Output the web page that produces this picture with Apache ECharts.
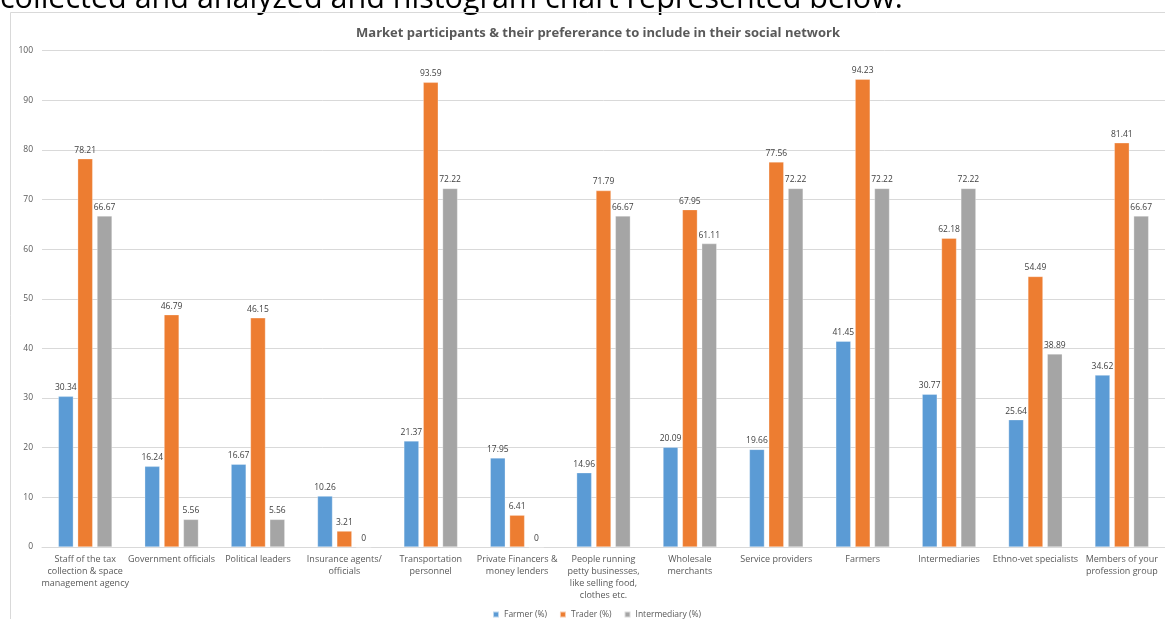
<!DOCTYPE html>
<html>
<head>
<meta charset="utf-8">
<script src="https://cdn.jsdelivr.net/npm/echarts@6/dist/echarts.min.js"></script>
<style>
  html, body { margin: 0; padding: 0; background: #ffffff; }
  #chart { width: 1165px; height: 619px; }
</style>
</head>
<body>
<div id="chart"></div>
<script>
// Groups of market participants along the x axis
const categories = [
  'Staff of the tax\ncollection & space\nmanagement agency',
  'Government officials',
  'Political leaders',
  'Insurance agents/\nofficials',
  'Transportation\npersonnel',
  'Private Financers &\nmoney lenders',
  'People running\npetty businesses,\nlike selling food,\nclothes etc.',
  'Wholesale\nmerchants',
  'Service providers',
  'Farmers',
  'Intermediaries',
  'Ethno-vet specialists',
  'Members of your\nprofession group'
];

// Share (%) of each respondent type that would include the group
const farmerPct = [30.34, 16.24, 16.67, 10.26, 21.37, 17.95, 14.96, 20.09, 19.66, 41.45, 30.77, 25.64, 34.62];
const traderPct = [78.21, 46.79, 46.15, 3.21, 93.59, 6.41, 71.79, 67.95, 77.56, 94.23, 62.18, 54.49, 81.41];
const intermediaryPct = [66.67, 5.56, 5.56, 0, 72.22, 0, 66.67, 61.11, 72.22, 72.22, 72.22, 38.89, 66.67];

const seriesNames = ['Farmer (%)', 'Trader (%)', 'Intermediary (%)'];
const seriesColors = ['#5B9BD5', '#ED7D31', '#A5A5A5'];

const yMin = 0, yMax = 100, yStep = 10;

const labelFont = '"Open Sans", "Noto Sans", sans-serif';

function barSeries(name, data, color) {
  return {
    name: name,
    type: 'bar',
    data: data,
    barWidth: 15,
    barGap: '29%',
    itemStyle: { color: color, borderColor: 'rgba(255,255,255,0.6)', borderWidth: 0.5 },
    label: {
      show: true,
      position: 'top',
      distance: 4,
      color: '#404040',
      fontSize: 8.5,
      fontFamily: labelFont
    }
  };
}

const chart = echarts.init(document.getElementById('chart'), null, { renderer: 'canvas' });

chart.setOption({
  animation: false,
  backgroundColor: '#ffffff',
  title: {
    text: 'Market participants & their prefererance to include in their social network',
    left: 593,
    textAlign: 'center',
    top: 22,
    textStyle: { color: '#595959', fontSize: 13, fontWeight: 'bold', fontFamily: labelFont }
  },
  legend: {
    data: seriesNames,
    top: 605,
    left: 487,
    itemWidth: 6,
    itemHeight: 6,
    itemGap: 12,
    icon: 'rect',
    textStyle: { color: '#595959', fontSize: 8.5, fontFamily: labelFont }
  },
  grid: { left: 42, right: 0, top: 50.5, bottom: 72, containLabel: false },
  xAxis: {
    type: 'category',
    data: categories,
    axisLine: { lineStyle: { color: '#d9d9d9' } },
    axisTick: { show: false },
    axisLabel: {
      interval: 0,
      color: '#595959',
      fontSize: 9,
      lineHeight: 11.7,
      margin: 7,
      fontFamily: labelFont
    }
  },
  yAxis: {
    type: 'value',
    min: yMin,
    max: yMax,
    interval: yStep,
    axisLine: { show: false },
    axisTick: { show: false },
    splitLine: { lineStyle: { color: '#d9d9d9' } },
    axisLabel: { color: '#595959', fontSize: 8.5, margin: 9, fontFamily: labelFont }
  },
  graphic: [
    {
      type: 'text',
      silent: true,
      style: {
        x: 0,
        y: -1,
        text: 'collected and analyzed and histogram chart represented below.',
        fill: '#000000',
        verticalAlign: 'middle',
        font: '30.5px "Open Sans", "Noto Sans", sans-serif'
      }
    },
    {
      type: 'line',
      silent: true,
      shape: { x1: 10.5, y1: 12.5, x2: 1165, y2: 12.5 },
      style: { stroke: '#d9d9d9', lineWidth: 1 }
    },
    {
      type: 'line',
      silent: true,
      shape: { x1: 10.5, y1: 12.5, x2: 10.5, y2: 619 },
      style: { stroke: '#d9d9d9', lineWidth: 1 }
    }
  ],
  series: [
    barSeries(seriesNames[0], farmerPct, seriesColors[0]),
    barSeries(seriesNames[1], traderPct, seriesColors[1]),
    barSeries(seriesNames[2], intermediaryPct, seriesColors[2])
  ]
});
</script>
</body>
</html>
